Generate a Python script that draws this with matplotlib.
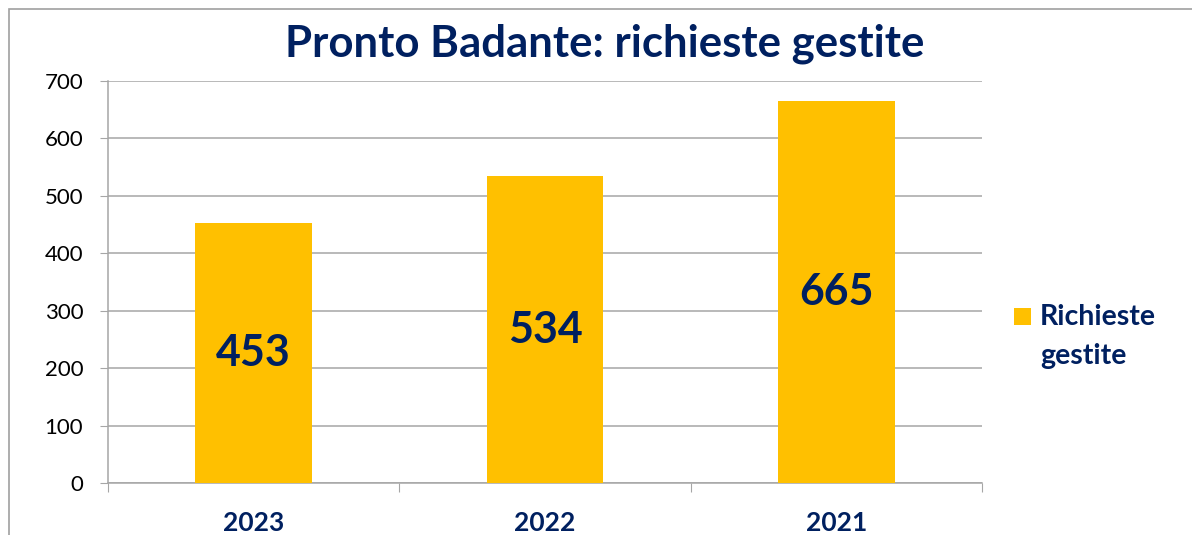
import matplotlib
matplotlib.use("Agg")
import matplotlib.pyplot as plt
from matplotlib.patches import Rectangle

categories = ["2023", "2022", "2021"]
values = [453, 534, 665]
series_name = "Richieste\ngestite"
title = "Pronto Badante: richieste gestite"

NAVY = "#002060"
GOLD = "#FFC000"
GRID = "#A6A6A6"

plt.rcParams['font.family'] = ['Lato', 'DejaVu Sans']

W, H = 1192, 535
fig = plt.figure(figsize=(W / 100, H / 100), dpi=100)
fig.patch.set_facecolor("white")

# outer chart border
fig.add_artist(Rectangle((9 / W, -0.1), 1.2, 1 - 9 / H + 0.1, transform=fig.transFigure,
                         fill=False, edgecolor="#A0A0A0", linewidth=1.2))

left, right, top, bottom = 108, 982, 81, 483
ax = fig.add_axes([left / W, 1 - bottom / H, (right - left) / W, (bottom - top) / H])

x = range(len(categories))
bars = ax.bar(x, values, width=0.4, color=GOLD, zorder=3, label=series_name)
ax.set_xlim(-0.5, len(categories) - 0.5)
ax.set_ylim(0, 700)
ax.set_yticks(range(0, 701, 100))
ax.yaxis.grid(True, color=GRID, linewidth=1.1, zorder=0)
ax.set_axisbelow(True)

for s in ["top", "right"]:
    ax.spines[s].set_visible(False)
for s in ["left", "bottom"]:
    ax.spines[s].set_color(GRID)
    ax.spines[s].set_linewidth(1.1)

ax.tick_params(axis="y", length=5.8, color=GRID, labelsize=16, pad=12, labelcolor="black")
ax.set_xticks([i - 0.5 for i in range(len(categories) + 1)], minor=False)
ax.set_xticklabels([""] * (len(categories) + 1))
ax.tick_params(axis="x", length=6.5, color=GRID)
ax.set_xticks(list(x), minor=True)
ax.set_xticklabels(categories, minor=True, fontsize=19, fontweight="bold", color=NAVY)
ax.tick_params(axis="x", which="minor", length=0, pad=20)

for b, v in zip(bars, values):
    ax.text(b.get_x() + b.get_width() / 2, v / 2, str(v), ha="center", va="center",
            fontsize=31, fontweight="bold", color=NAVY, zorder=4)

fig.text(605 / W, 1 - 44 / H, title, ha="center", va="center", fontsize=31.5,
         fontweight="bold", color=NAVY)

# legend
fig.add_artist(Rectangle((1014 / W, 1 - 325 / H), 17 / W, 17 / H, transform=fig.transFigure,
                         facecolor=GOLD, edgecolor="none"))
fig.text(1040 / W, 1 - 317 / H, "Richieste", ha="left", va="center", fontsize=20.5,
         fontweight="bold", color=NAVY)
fig.text(1040 / W, 1 - 356 / H, "gestite", ha="left", va="center", fontsize=20.5,
         fontweight="bold", color=NAVY)

fig.savefig("out.png", dpi=100)
